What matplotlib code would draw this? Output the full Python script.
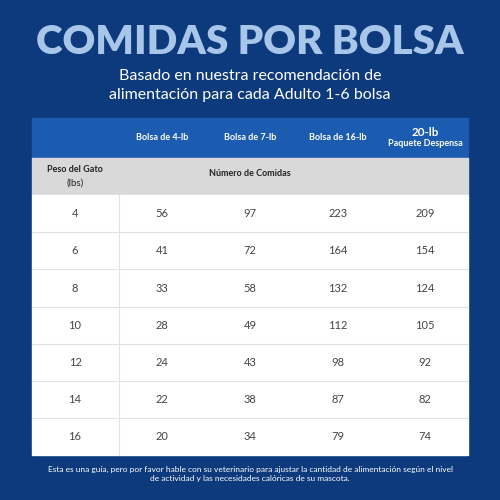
import matplotlib
matplotlib.use("Agg")
import matplotlib.pyplot as plt
from matplotlib.patches import Rectangle

headers = ["Bolsa de 4-lb", "Bolsa de 7-lb", "Bolsa de 16-lb"]
weights = [4, 6, 8, 10, 12, 14, 16]
bag4 = [56, 41, 33, 28, 24, 22, 20]
bag7 = [97, 72, 58, 49, 43, 38, 34]
bag16 = [223, 164, 132, 112, 98, 87, 79]
bag20 = [209, 154, 124, 105, 92, 82, 74]

fig = plt.figure(figsize=(5, 5), dpi=100)
fig.patch.set_facecolor("#0c3a7c")
ax = fig.add_axes([0, 0, 1, 1])
ax.set_xlim(0, 500); ax.set_ylim(500, 0); ax.axis("off")
ax.set_facecolor("#0c3a7c")
F = "Lato"

ax.text(250, 42, "COMIDAS POR BOLSA", ha="center", va="center", fontsize=29,
        fontweight="heavy", color="#a8c6ea", family=F)
ax.text(250, 76, "Basado en nuestra recomendación de", ha="center", va="center",
        fontsize=11.5, color="white", family=F)
ax.text(250, 95, "alimentación para cada Adulto 1-6 bolsa", ha="center", va="center",
        fontsize=11.5, color="white", family=F)

L, R = 32, 468
ax.add_patch(Rectangle((L, 118), R - L, 40, color="#1b5cb0"))
ax.add_patch(Rectangle((L, 158), R - L, 37, color="#d9d9d9"))
top, rh = 195, 37.2
ax.add_patch(Rectangle((L, top), R - L, rh * 7, color="white"))
for i in range(1, 7):
    ax.plot([L, R], [top + i * rh] * 2, color="#e2e2e2", lw=0.8)
ax.plot([119, 119], [top, top + rh * 7], color="#e2e2e2", lw=0.8)

cx = [75, 162, 250, 338, 425]
for x, h in zip(cx[1:4], headers):
    ax.text(x, 137, h, ha="center", va="center", fontsize=6.5, fontweight="bold",
            color="white", family=F)
ax.text(425, 132, "20-lb", ha="center", va="center", fontsize=8.5, fontweight="bold",
        color="white", family=F)
ax.text(425, 143, "Paquete Despensa", ha="center", va="center", fontsize=6.5,
        fontweight="bold", color="white", family=F)
ax.text(75, 170, "Peso del Gato", ha="center", va="center", fontsize=6.5,
        fontweight="bold", color="#222", family=F)
ax.text(75, 183, "(lbs)", ha="center", va="center", fontsize=7,
        color="#222", family=F)
ax.text(250, 174, "Número de Comidas", ha="center", va="center", fontsize=6.5,
        fontweight="bold", color="#222", family=F)

for i in range(7):
    y = top + (i + 0.5) * rh
    for x, v in zip(cx, [weights[i], bag4[i], bag7[i], bag16[i], bag20[i]]):
        ax.text(x, y, str(v), ha="center", va="center", fontsize=8, color="#444", family=F)

ax.text(250, 469, "Esta es una guía, pero por favor hable con su veterinario para ajustar la cantidad de alimentación según el nivel",
        ha="center", va="center", fontsize=6, color="white", family=F)
ax.text(250, 479, "de actividad y las necesidades calóricas de su mascota.",
        ha="center", va="center", fontsize=6, color="white", family=F)

fig.savefig("out.png", dpi=100, facecolor=fig.get_facecolor())
